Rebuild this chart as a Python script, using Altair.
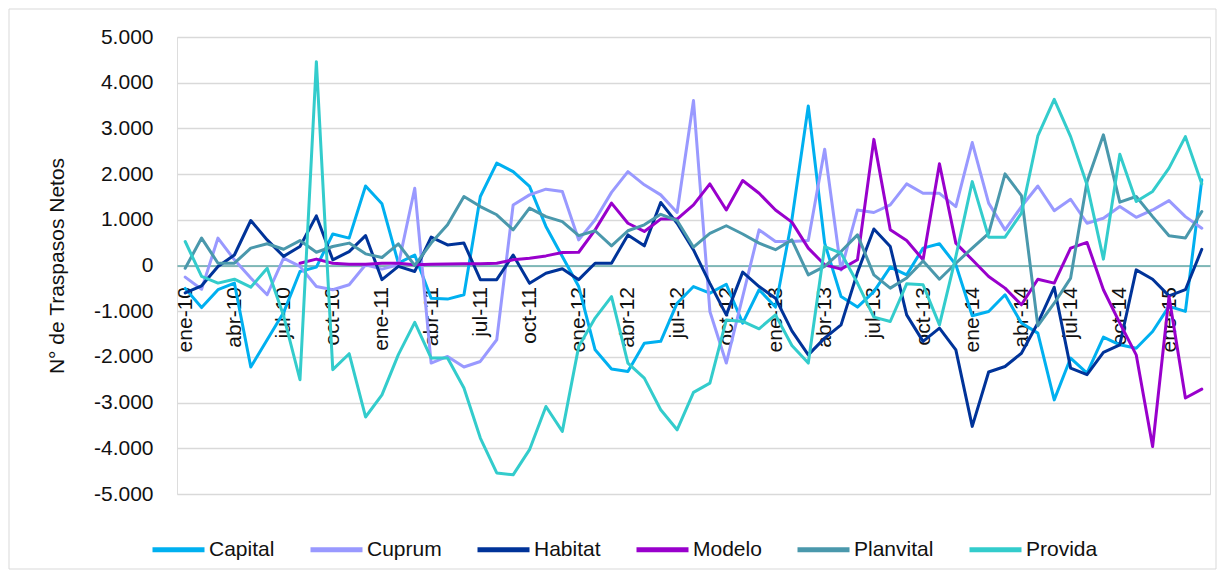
import altair as alt
import pandas as pd

# ---- categories ----
meses_abbr = ["ene", "feb", "mar", "abr", "may", "jun", "jul", "ago", "sep", "oct", "nov", "dic"]
anios = ["10", "11", "12", "13", "14", "15"]
meses = [f"{m}-{a}" for a in anios for m in meses_abbr][:63]

etiquetas_x = ["ene-10", "abr-10", "jul-10", "oct-10", "ene-11", "abr-11", "jul-11", "oct-11",
               "ene-12", "abr-12", "jul-12", "oct-12", "ene-13", "abr-13", "jul-13", "oct-13",
               "ene-14", "abr-14", "jul-14", "oct-14", "ene-15"]

series = ["Capital", "Cuprum", "Habitat", "Modelo", "Planvital", "Provida"]
colores = ["#00B0F0", "#9999FF", "#003399", "#9900CC", "#4A98AC", "#33CCCC"]

# ---- values ----
capital = [-500, -920, -530, -385, -2220, -1625, -1030, -130, -35, 690, 600, 1740,
           1350, 50, 230, -715, -735, -640, 1510, 2240, 2055, 1730, 855, 195,
           -460, -1845, -2265, -2320, -1700, -1660, -825, -460, -605, -410, -1260, -530,
           -910, 1000, 3490, 490, -680, -910, -570, -35, -205, 380, 475, 15,
           -1100, -1005, -640, -1260, -1480, -2940, -2025, -2355, -1565, -1735, -1810, -1445,
           -895, -1005, 1875]

cuprum = [-255, -520, 600, 125, -275, -640, 160, -20, -460, -530, -420, 15,
          -80, 15, 1690, -2135, -1990, -2220, -2100, -1625, 1325, 1545, 1670, 1620,
          560, 1000, 1600, 2055, 1765, 1545, 1160, 3610, -1005, -2135, -680, 780,
          525, 525, 545, 2545, -100, 1215, 1160, 1325, 1785, 1580, 1580, 1290,
          2690, 1365, 780, 1290, 1740, 1200, 1450, 925, 1035, 1290, 1055, 1215,
          1420, 1070, 815]

habitat = [-600, -445, -20, 230, 985, 560, 200, 415, 1085, 125, 305, 655,
           -310, -20, -130, 620, 450, 490, -310, -310, 230, -390, -170, -70,
           -310, 50, 50, 670, 430, 1380, 925, 340, -390, -1080, -145, -460,
           -715, -1430, -1955, -1590, -1300, -150, 800, 415, -1080, -1660, -1370, -1845,
           -3520, -2330, -2210, -1920, -1260, -475, -2245, -2390, -1900, -1735, -95, -300,
           -665, -530, 355]

modelo = [None, None, None, None, None, None, None, 50, 140, 50, 30, 30,
          50, 50, 15, 30, 35, 40, 40, 50, 125, 160, 210, 285,
          290, 780, 1365, 925, 745, 1015, 1015, 1325, 1785, 1215, 1860, 1580,
          1215, 950, 380, 15, -80, 125, 2760, 780, 545, 125, 2225, 490,
          125, -240, -495, -860, -300, -385, 380, 505, -530, -1260, -1955, -3960,
          -680, -2900, -2705]

planvital = [-60, 600, 50, 50, 380, 475, 355, 545, 290, 415, 490, 255,
             175, 475, 0, 490, 890, 1510, 1290, 1110, 780, 1255, 1070, 960,
             655, 760, 430, 760, 890, 1120, 985, 400, 705, 870, 690, 490,
             345, 560, -205, -20, 305, 670, -205, -495, -275, 100, -300, 50,
             380, 705, 2005, 1530, -1320, -825, -275, 1835, 2860, 1385, 1510, 1070,
             650, 600, 1180]

provida = [525, -240, -385, -300, -475, -60, -1100, -2500, 4460, -2280, -1930, -3315,
           -2830, -1950, -1245, -2025, -2025, -2680, -3775, -4540, -4580, -4030, -3085, -3630,
           -1770, -1150, -680, -2135, -2465, -3155, -3595, -2775, -2575, -1190, -1225, -1385,
           -1080, -1750, -2135, 415, 270, -385, -1130, -1225, -400, -420, -1300, 195,
           1835, 620, 620, 1145, 2835, 3635, 2820, 1765, 140, 2435, 1400, 1620,
           2130, 2820, 1785]

valores = [capital, cuprum, habitat, modelo, planvital, provida]

rows = []
for nombre, vals in zip(series, valores):
    for m, v in zip(meses, vals):
        if v is not None:
            rows.append({"mes": m, "serie": nombre, "valor": v})
df = pd.DataFrame(rows)

FONT = "Liberation Sans"
W, H = 1033, 457
TXT = "#111111"

lineas = alt.Chart(df).mark_line(strokeWidth=3, strokeJoin="round", strokeCap="round").encode(
    x=alt.X("mes:O", sort=meses,
            scale=alt.Scale(type="point", padding=0.5, domain=meses),
            axis=alt.Axis(values=etiquetas_x, labelAngle=270, labelAlign="right",
                          labelBaseline="middle", labelPadding=21, ticks=False, tickSize=0,
                          offset=-228.5, domainColor="#62AAAA", domainWidth=1.5, grid=False,
                          title=None, labelFontSize=21, labelFont=FONT, labelColor=TXT,
                          labelOverlap=False, labelBound=False, labelFlush=False)),
    y=alt.Y("valor:Q", scale=alt.Scale(domain=[-5000, 5000], nice=False, zero=False),
            axis=alt.Axis(values=list(range(-5000, 5001, 1000)),
                          labelExpr="(datum.value < 0 ? '-' : '') + replace(format(abs(datum.value), ','), ',', '.')",
                          grid=True, gridColor="#D9D9D9", gridWidth=1.5, domain=False,
                          ticks=False, tickSize=0, labelPadding=24,
                          title="N° de Traspasos Netos", titleX=-120, titleY=228.5, titleAngle=270,
                          titleAlign="center", titleBaseline="middle", titleFont=FONT,
                          titleFontSize=21, titleFontWeight="normal", titleColor=TXT,
                          labelFontSize=21, labelFont=FONT, labelColor=TXT)),
    color=alt.Color("serie:N", sort=series, scale=alt.Scale(domain=series, range=colores),
                    legend=alt.Legend(title=None, orient="none", legendX=-27, legendY=484,
                                      direction="horizontal", symbolType="stroke",
                                      symbolSize=2704, symbolStrokeWidth=5, labelFont=FONT,
                                      labelFontSize=21, labelColor=TXT, labelOffset=2,
                                      columnPadding=25, padding=0)),
)

borde = alt.Chart(pd.DataFrame({"b": [0]})).mark_rect(
    fill="transparent", stroke="#D9D9D9", strokeWidth=1
).encode(x=alt.value(-168), x2=alt.value(1039), y=alt.value(-28), y2=alt.value(532))

chart = alt.layer(borde, lineas).properties(
    width=W, height=H,
    autosize=alt.AutoSizeParams(type="none"),
    padding={"left": 169, "top": 29, "right": 7, "bottom": 76},
).configure_view(stroke=None).configure(background="white")

chart.save("out.html", embed_options={"renderer": "svg", "actions": False})
